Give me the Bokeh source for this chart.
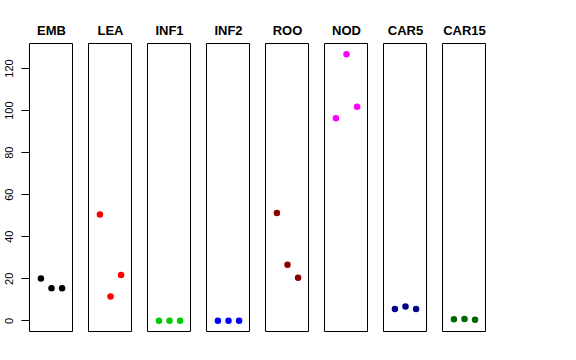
from bokeh.plotting import figure
from bokeh.layouts import row
from bokeh.models import Range1d, FixedTicker
from bokeh.embed import file_html
from bokeh.resources import INLINE

categories = ["EMB", "LEA", "INF1", "INF2", "ROO", "NOD", "CAR5", "CAR15"]
colors = ["#000000", "#FF0000", "#00CD00", "#0000FF", "#8B0000", "#FF00FF", "#00008B", "#006400"]
positions = [1, 2, 3]
emb = [20.1, 15.5, 15.5]
lea = [50.6, 11.6, 21.8]
inf1 = [0.1, 0.1, 0.1]
inf2 = [0.1, 0.1, 0.1]
roo = [51.3, 26.7, 20.5]
nod = [96.3, 126.8, 101.8]
car5 = [5.6, 6.8, 5.6]
car15 = [0.8, 0.9, 0.5]
series = [emb, lea, inf1, inf2, roo, nod, car5, car15]
y_ticks = [0, 20, 40, 60, 80, 100, 120]

FONT = "Liberation Sans"
figs = []
for i, (cat, col, vals) in enumerate(zip(categories, colors, series)):
    p = figure(frame_width=44, frame_height=288, output_backend="svg",
               toolbar_location=None, x_range=Range1d(-0.08, 4.08),
               y_range=Range1d(-5.07, 131.9), x_axis_location=None,
               y_axis_location="left" if i == 0 else None,
               min_border_left=29 if i == 0 else 15, min_border_right=0,
               min_border_top=43, min_border_bottom=4)
    p.grid.visible = False
    p.outline_line_color = "#000000"
    p.outline_line_width = 1
    p.outline_line_alpha = 1
    p.background_fill_color = "white"
    p.border_fill_color = "white"
    p.title.text = cat
    p.title.align = "center"
    p.title.standoff = 12
    p.title.text_font = FONT
    p.title.text_font_style = "bold"
    p.title.text_font_size = "13px"
    p.title.text_color = "black"
    p.scatter(positions, vals, size=6.5, color=col, line_width=0)
    if i == 0:
        ax = p.yaxis[0]
        ax.ticker = FixedTicker(ticks=y_ticks)
        ax.bounds = (0, 120)
        ax.major_label_orientation = "vertical"
        ax.major_tick_in = 0
        ax.major_tick_out = 8
        ax.minor_tick_line_color = None
        ax.major_label_standoff = 8
        ax.major_label_text_font = FONT
        ax.major_label_text_font_size = "11px"
        ax.major_label_text_color = "black"
        ax.axis_line_color = "black"
        ax.major_tick_line_color = "black"
    figs.append(p)

layout = row(*figs, spacing=0)
open("out.html", "w").write(file_html(layout, INLINE))
